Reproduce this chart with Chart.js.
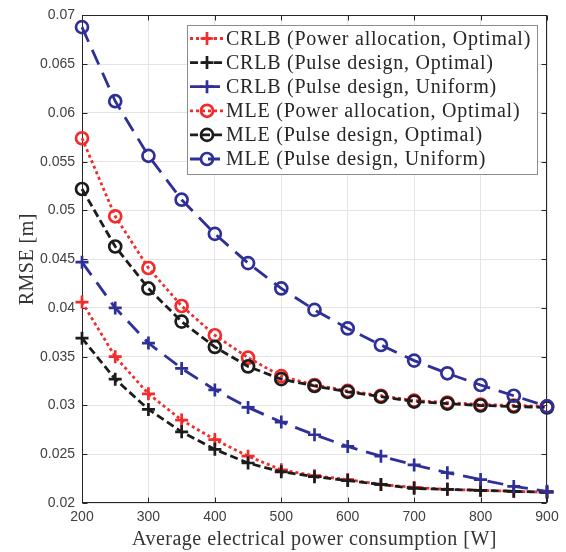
<!DOCTYPE html>
<html><head><meta charset="utf-8">
<script src="https://cdn.jsdelivr.net/npm/chart.js@4.4.0/dist/chart.umd.min.js"></script>
<style>html,body{margin:0;padding:0;background:#fff;overflow:hidden}canvas{display:block}</style>
</head><body>
<canvas id="c" width="566" height="552"></canvas>
<script>
const power = [200,250,300,350,400,450,500,550,600,650,700,750,800,850,900];
const crlbPowerOpt = [0.0406,0.0350,0.0312,0.0285,0.0265,0.0248,0.0234,0.0228,0.0224,0.0219,0.0216,0.0214,0.0213,0.0212,0.0211];
const crlbPulseOpt = [0.0369,0.0327,0.0296,0.0273,0.0255,0.0241,0.0232,0.0227,0.0223,0.0219,0.0215,0.0214,0.0213,0.0212,0.0211];
const crlbPulseUni = [0.0447,0.0400,0.0364,0.0338,0.0316,0.0298,0.0283,0.0270,0.0258,0.0248,0.0239,0.0231,0.0224,0.0217,0.0212];
const mlePowerOpt = [0.0574,0.0494,0.0441,0.0402,0.0372,0.0349,0.0330,0.0321,0.0315,0.0310,0.0305,0.0303,0.0301,0.0300,0.0299];
const mlePulseOpt = [0.0522,0.0463,0.0420,0.0386,0.0360,0.0340,0.0327,0.0320,0.0314,0.0309,0.0304,0.0302,0.0300,0.0299,0.0298];
const mlePulseUni = [0.0688,0.0612,0.0556,0.0511,0.0476,0.0446,0.0420,0.0398,0.0379,0.0362,0.0346,0.0333,0.0321,0.0310,0.0299];
const seriesNames = [
  'CRLB (Power allocation, Optimal)',
  'CRLB (Pulse design, Optimal)',
  'CRLB (Pulse design, Uniform)',
  'MLE (Power allocation, Optimal)',
  'MLE (Pulse design, Optimal)',
  'MLE (Pulse design, Uniform)'
];
const xTicks = [200,300,400,500,600,700,800,900];
const yTicks = [0.02,0.025,0.03,0.035,0.04,0.045,0.05,0.055,0.06,0.065,0.07];
const xTitle = 'Average electrical power consumption [W]';
const yTitle = 'RMSE [m]';

const RED = '#f22b2b', BLACK = '#1c1c1c', BLUE = '#2f2f98';
const styles = [
  {c: RED, dash: [3, 3], pt: 'cross'},
  {c: BLACK, dash: [8, 4], pt: 'cross'},
  {c: BLUE, dash: [16, 9], pt: 'cross'},
  {c: RED, dash: [3, 3], pt: 'circle'},
  {c: BLACK, dash: [8, 4], pt: 'circle'},
  {c: BLUE, dash: [16, 9], pt: 'circle'}
];
const seriesData = [crlbPowerOpt, crlbPulseOpt, crlbPulseUni, mlePowerOpt, mlePulseOpt, mlePulseUni];

const datasets = seriesData.map((arr, i) => ({
  label: seriesNames[i],
  data: power.map((x, j) => ({x: x, y: arr[j]})),
  borderColor: styles[i].c,
  borderWidth: 2.8,
  borderDash: styles[i].dash,
  pointStyle: styles[i].pt,
  pointRadius: styles[i].pt === 'cross' ? 6.5 : 6,
  pointBorderWidth: 2.7,
  pointBorderColor: styles[i].c,
  pointBackgroundColor: 'rgba(0,0,0,0)',
  fill: false,
  tension: 0,
  clip: false,
  order: 5 - i
}));

const TICKCOL = '#404040';
const framePlugin = {
  id: 'frame',
  beforeDatasetsDraw(chart) {
    const ctx = chart.ctx, a = chart.chartArea;
    const L = Math.round(a.left) + 0.5, R = Math.round(a.right) - 0.5;
    const T = Math.round(a.top) + 0.5, B = Math.round(a.bottom) - 0.5;
    ctx.save();
    ctx.strokeStyle = '#262626';
    ctx.lineWidth = 1;
    ctx.strokeRect(L, T, R - L, B - T);
    const tl = 5;
    ctx.beginPath();
    const xs = chart.scales.x, ys = chart.scales.y;
    xTicks.forEach(v => {
      const px = Math.round(xs.getPixelForValue(v)) + 0.5;
      ctx.moveTo(px, B); ctx.lineTo(px, B - tl);
      ctx.moveTo(px, T); ctx.lineTo(px, T + tl);
    });
    yTicks.forEach(v => {
      const py = Math.round(ys.getPixelForValue(v)) + 0.5;
      ctx.moveTo(L, py); ctx.lineTo(L + tl, py);
      ctx.moveTo(R, py); ctx.lineTo(R - tl, py);
    });
    ctx.stroke();
    ctx.restore();
  },
  afterDraw(chart) {
    const ctx = chart.ctx, a = chart.chartArea;
    ctx.save();
    ctx.fillStyle = '#333333';
    ctx.font = '20px "Liberation Serif"';
    try { ctx.letterSpacing = '0.5px'; } catch (e) {}
    ctx.textAlign = 'center';
    ctx.textBaseline = 'alphabetic';
    ctx.fillText(xTitle, (a.left + a.right) / 2, 545);
    ctx.save();
    ctx.translate(33, (a.top + a.bottom) / 2);
    ctx.rotate(-Math.PI / 2);
    ctx.fillText(yTitle, 0, 0);
    ctx.restore();
    const bx = 187, by = 25, bw = 350, bh = 149;
    ctx.fillStyle = '#ffffff';
    ctx.fillRect(bx, by, bw, bh);
    ctx.strokeStyle = '#8c8c8c';
    ctx.lineWidth = 1;
    ctx.strokeRect(bx + 0.5, by + 0.5, bw, bh);
    ctx.font = '20px "Liberation Serif"';
    try { ctx.letterSpacing = '0.75px'; } catch (e) {}
    ctx.textAlign = 'left';
    ctx.textBaseline = 'middle';
    for (let i = 0; i < 6; i++) {
      const yy = 38.5 + i * 24.1;
      const s = styles[i];
      ctx.strokeStyle = s.c;
      ctx.lineWidth = 2.8;
      ctx.setLineDash(s.dash[0] > 10 ? [12, 6] : s.dash);
      ctx.beginPath();
      ctx.moveTo(190, yy); ctx.lineTo(223, yy);
      ctx.stroke();
      ctx.setLineDash([]);
      ctx.lineWidth = 2.7;
      ctx.beginPath();
      const mx = 207;
      if (s.pt === 'cross') {
        ctx.moveTo(mx - 6.5, yy); ctx.lineTo(mx + 6.5, yy);
        ctx.moveTo(mx, yy - 6.5); ctx.lineTo(mx, yy + 6.5);
      } else {
        ctx.arc(mx, yy, 6, 0, Math.PI * 2);
      }
      ctx.stroke();
      ctx.fillStyle = '#262626';
      ctx.fillText(seriesNames[i], 226, yy + 1);
    }
    ctx.restore();
  }
};

new Chart(document.getElementById('c'), {
  type: 'line',
  data: {datasets: datasets},
  options: {
    responsive: false,
    animation: false,
    devicePixelRatio: 1,
    layout: {padding: {left: 0, top: 15, right: 19, bottom: 0}},
    plugins: {legend: {display: false}, tooltip: {enabled: false}},
    scales: {
      x: {
        type: 'linear', min: 200, max: 900,
        afterBuildTicks: s => { s.ticks = xTicks.map(v => ({value: v})); },
        afterFit: s => { s.height = 49; },
        ticks: {color: TICKCOL, font: {family: '"Liberation Sans"', size: 14}, padding: 6, maxRotation: 0, callback: v => String(v)},
        grid: {color: '#e4e4e4', drawTicks: false, tickLength: 0},
        border: {display: false}
      },
      y: {
        type: 'linear', min: 0.02, max: 0.07,
        afterBuildTicks: s => { s.ticks = yTicks.map(v => ({value: v})); },
        afterFit: s => { s.width = 82; },
        ticks: {color: TICKCOL, font: {family: '"Liberation Sans"', size: 14}, padding: 7, callback: v => String(+(+v).toFixed(4))},
        grid: {color: '#e4e4e4', drawTicks: false, tickLength: 0},
        border: {display: false}
      }
    }
  },
  plugins: [framePlugin]
});
</script>
</body></html>
